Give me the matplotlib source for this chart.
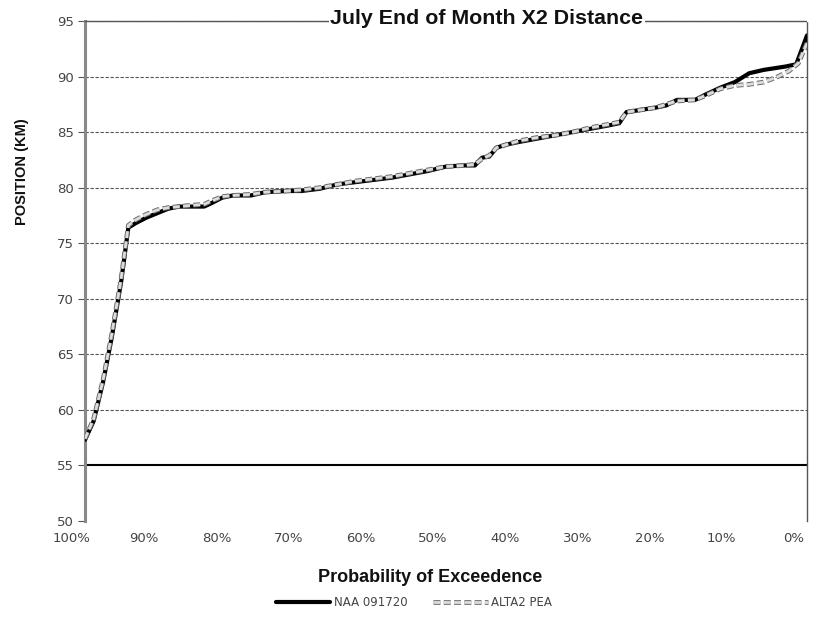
import matplotlib
matplotlib.use("Agg")
import matplotlib.pyplot as plt
import matplotlib.patheffects as pe
from matplotlib.transforms import ScaledTranslation

plt.rcParams['font.family'] = ['Liberation Sans', 'DejaVu Sans']

# Probability of exceedance (%) and X2 position (km)
naa_prob = [100, 98.8, 97.5, 96.3, 95.0, 94.0, 93.0, 91.5, 90.0, 88.5, 87.0, 85.5,
            83.5, 82.5, 81.0, 79.5, 77.0, 75.0, 72.0, 70.0, 67.5, 65.0, 62.5, 60.0,
            57.5, 55.0, 52.5, 50.0, 47.5, 46.0, 45.0, 44.0, 43.0, 41.5, 40.0, 37.5,
            35.0, 32.5, 30.0, 27.5, 26.0, 25.0, 23.0, 21.0, 19.5, 18.0, 15.5, 14.0,
            12.0, 10.0, 8.0, 6.0, 3.0, 1.5, 0.0]
naa_km = [57.3, 59.0, 62.5, 66.5, 71.5, 76.4, 76.8, 77.3, 77.7, 78.1, 78.3, 78.3,
          78.3, 78.6, 79.1, 79.3, 79.3, 79.6, 79.7, 79.7, 79.9, 80.3, 80.5, 80.7,
          80.9, 81.2, 81.5, 81.9, 82.0, 82.0, 82.7, 82.8, 83.6, 83.9, 84.1, 84.4,
          84.7, 85.0, 85.3, 85.6, 85.8, 86.8, 87.0, 87.2, 87.4, 87.9, 87.9, 88.4,
          89.0, 89.5, 90.3, 90.6, 90.9, 91.1, 93.7]

alt_prob = [100, 98.8, 97.5, 96.3, 95.0, 94.0, 93.0, 91.5, 90.0, 88.5, 87.0, 85.5,
            83.5, 82.5, 81.0, 79.5, 77.0, 75.0, 72.0, 70.0, 67.5, 65.0, 62.5, 60.0,
            57.5, 55.0, 52.5, 50.0, 47.5, 46.0, 45.0, 44.0, 43.0, 41.5, 40.0, 37.5,
            35.0, 32.5, 30.0, 27.5, 26.0, 25.0, 23.0, 21.0, 19.5, 18.0, 15.5, 14.0,
            12.0, 10.0, 8.0, 6.0, 4.0, 2.5, 1.2, 0.0]
alt_km = [57.4, 59.2, 62.7, 66.8, 71.8, 76.6, 77.1, 77.6, 78.0, 78.2, 78.3, 78.4,
          78.5, 78.8, 79.2, 79.3, 79.4, 79.6, 79.7, 79.8, 80.0, 80.3, 80.6, 80.8,
          81.0, 81.3, 81.6, 81.9, 82.0, 82.1, 82.6, 82.9, 83.6, 83.9, 84.2, 84.5,
          84.7, 85.0, 85.4, 85.7, 85.9, 86.8, 87.0, 87.2, 87.5, 87.8, 87.9, 88.3,
          88.9, 89.2, 89.3, 89.5, 90.0, 90.5, 91.2, 93.0]

x_ticks = [100, 90, 80, 70, 60, 50, 40, 30, 20, 10, 0]
x_tick_labels = ['100%', '90%', '80%', '70%', '60%', '50%', '40%', '30%', '20%', '10%', '0%']
y_ticks = [50, 55, 60, 65, 70, 75, 80, 85, 90, 95]

fig = plt.figure(figsize=(8.19, 6.17), dpi=100)
ax = fig.add_axes([85 / 819, 1 - 521 / 617, 722 / 819, 500 / 617])

ax.set_xlim(100, 0)
ax.set_ylim(50, 95)

# grid lines
for y in y_ticks[2:]:
    ax.axhline(y, color='#555555', lw=0.8, ls=(0, (3, 1.5)), zorder=1)
ax.axhline(55, color='black', lw=1.5, zorder=2)

# series
ax.plot(naa_prob, naa_km, color='black', lw=3.0, solid_capstyle='round',
        zorder=3, label='NAA 091720')
ax.plot(alt_prob, alt_km, color='#dcdcdc', lw=2.0, ls=(0, (2.5, 1.2)), zorder=4,
        path_effects=[pe.Stroke(linewidth=3.4, foreground='#6a6a6a'), pe.Normal()],
        label='ALTA2 PEA')

# frame
for side in ('top', 'right'):
    ax.spines[side].set_color('#555555')
    ax.spines[side].set_linestyle((0, (1, 1)))
    ax.spines[side].set_linewidth(1.0)
ax.spines['left'].set_color('#888888')
ax.spines['left'].set_linestyle((0, (1, 0.6)))
ax.spines['left'].set_linewidth(2.2)
ax.spines['bottom'].set_visible(False)

ax.set_yticks(y_ticks)
ax.set_yticklabels([str(v) for v in y_ticks], family='DejaVu Sans')
ax.set_xticks(x_ticks)
ax.set_xticklabels(x_tick_labels, family='DejaVu Sans')
ax.tick_params(axis='y', length=5, width=0.8, color='#555555', pad=3,
               labelsize=9.5, labelcolor='#444444')
ax.tick_params(axis='x', length=0, pad=8, labelsize=9.5, labelcolor='#444444')
shift = ScaledTranslation(-13 / 100, 0, fig.dpi_scale_trans)
for lbl in ax.get_xticklabels():
    lbl.set_transform(lbl.get_transform() + shift)

fig.text(487 / 819, 1 - 18 / 617, 'July End of Month X2 Distance', ha='center', va='center',
         fontsize=15.4, fontweight='bold', color='#111111',
         bbox=dict(facecolor='white', edgecolor='none', pad=1))

fig.text(430 / 819, 1 - 577 / 617, 'Probability of Exceedence', ha='center', va='center',
         fontsize=13, fontweight='bold', color='#111111')
fig.text(22 / 819, 1 - 172 / 617, 'POSITION (KM)', ha='center', va='center',
         rotation=90, fontsize=10.5, fontweight='bold', color='#111111')

fig.legend(loc='center', bbox_to_anchor=(414 / 819, 1 - 603 / 617), ncol=2,
           frameon=False, prop={'family': 'DejaVu Sans', 'size': 8.5},
           handlelength=4.6, columnspacing=2.2, handletextpad=0.3,
           labelcolor='#444444')

fig.savefig('out.png', dpi=100)
